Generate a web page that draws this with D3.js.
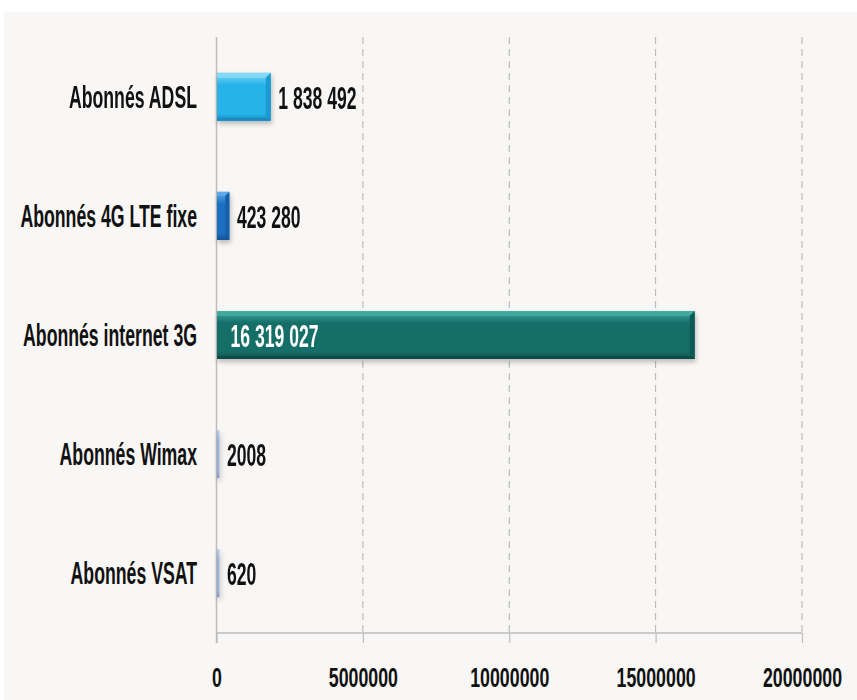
<!DOCTYPE html>
<html>
<head>
<meta charset="utf-8">
<script src="https://cdn.jsdelivr.net/npm/d3@7/dist/d3.min.js"></script>
<style>
  html, body { margin: 0; padding: 0; background: #ffffff; }
  svg { display: block; }
  text { font-family: "Liberation Sans", Arial, sans-serif; font-weight: bold; }
</style>
</head>
<body>
<svg id="chart" width="857" height="700"></svg>
<script>
// Internet subscribers by access technology
const categories = ["Abonnés ADSL", "Abonnés 4G LTE fixe", "Abonnés internet 3G", "Abonnés Wimax", "Abonnés VSAT"];
const values = [1838492, 423280, 16319027, 2008, 620];
const valueLabels = ["1 838 492", "423 280", "16 319 027", "2008", "620"];
const tickValues = [0, 5000000, 10000000, 15000000, 20000000];
const tickLabels = ["0", "5000000", "10000000", "15000000", "20000000"];

// bevelled bar palette: base, top light, bottom dark, right edge
const palette = [
  { base: "#28b3e9", light: "#86d9f6", dark: "#178cc2", edge: "#1b9ad2" },
  { base: "#1d70c1", light: "#5ea9e8", dark: "#13559a", edge: "#175fa9" },
  { base: "#156e68", light: "#43aaa1", dark: "#0e4d48", edge: "#0f5a54" },
  { base: "#9eaed6", light: "#bcc8e6", dark: "#8898c4", edge: "#8f9fca" },
  { base: "#9eaed6", light: "#bcc8e6", dark: "#8898c4", edge: "#8f9fca" }
];

const svg = d3.select("#chart");

// panel background
svg.append("rect").attr("x", 4).attr("y", 12).attr("width", 853).attr("height", 688).attr("fill", "#f8f7f5");

const x = d3.scaleLinear().domain([0, 20000000]).range([216.5, 802]);
const y = d3.scaleBand().domain(categories).range([37, 633]).paddingInner(0.597).paddingOuter(0.3);

const defs = svg.append("defs");
const shadow = defs.append("filter").attr("id", "shadow").attr("x", "-10%").attr("y", "-20%").attr("width", "130%").attr("height", "160%");
shadow.append("feDropShadow").attr("dx", 1).attr("dy", 3).attr("stdDeviation", 2.5)
  .attr("flood-color", "#000").attr("flood-opacity", 0.25);

palette.forEach((p, i) => {
  const g = defs.append("linearGradient").attr("id", "grad" + i).attr("x1", 0).attr("y1", 0).attr("x2", 0).attr("y2", 1);
  g.append("stop").attr("offset", "0%").attr("stop-color", p.light);
  g.append("stop").attr("offset", "25%").attr("stop-color", p.base);
  g.append("stop").attr("offset", "85%").attr("stop-color", p.base);
  g.append("stop").attr("offset", "100%").attr("stop-color", p.dark);
});

// gridlines
svg.append("g")
  .selectAll("line")
  .data(tickValues.slice(1))
  .join("line")
  .attr("x1", d => x(d)).attr("x2", d => x(d))
  .attr("y1", 37).attr("y2", 633)
  .attr("stroke", "#b0b0b0").attr("stroke-width", 1)
  .attr("stroke-dasharray", "7,5");

// x axis
const xAxis = svg.append("g").attr("transform", "translate(0,633)")
  .call(d3.axisBottom(x).tickValues(tickValues).tickSize(10).tickFormat((d, i) => tickLabels[i]));
xAxis.select(".domain").attr("stroke", "#bdbdbd").attr("stroke-width", 1.5).attr("d", `M${x(0)},0H${x(20000000)}`);
xAxis.selectAll(".tick line").attr("stroke", "#bdbdbd").attr("stroke-width", 1.2);
xAxis.selectAll(".tick text")
  .attr("y", 0).attr("dy", 0)
  .attr("fill", "#111").attr("font-size", 28)
  .attr("font-family", "'Liberation Sans', Arial, sans-serif").attr("font-weight", "bold")
  .attr("transform", "translate(0,54) scale(0.635,1)");

// vertical axis line
svg.append("line")
  .attr("x1", x(0)).attr("x2", x(0)).attr("y1", 37).attr("y2", 643)
  .attr("stroke", "#bdbdbd").attr("stroke-width", 1.5);

// bars
const bars = svg.append("g").attr("filter", "url(#shadow)")
  .selectAll("g")
  .data(categories)
  .join("g");

bars.each(function (c, i) {
  const g = d3.select(this);
  const x0 = x(0) + 0.5;
  const w = Math.max(x(values[i]) - x(0), 2.5);
  const y0 = y(c);
  const h = y.bandwidth();
  const p = palette[i];
  g.append("rect").attr("x", x0).attr("y", y0).attr("width", w).attr("height", h).attr("fill", `url(#grad${i})`);
  if (w > 8) {
    const b = Math.min(5, w / 3);
    g.append("polygon").attr("fill", p.light).attr("opacity", 0.9)
      .attr("points", [[x0, y0], [x0 + w, y0], [x0 + w - b, y0 + b], [x0, y0 + b]].map(q => q.join(",")).join(" "));
    g.append("polygon").attr("fill", p.dark)
      .attr("points", [[x0, y0 + h - b + 2], [x0 + w - b + 2, y0 + h - b + 2], [x0 + w, y0 + h], [x0, y0 + h]].map(q => q.join(",")).join(" "));
    g.append("polygon").attr("fill", p.edge)
      .attr("points", [[x0 + w, y0], [x0 + w, y0 + h], [x0 + w - b, y0 + h - b], [x0 + w - b, y0 + b]].map(q => q.join(",")).join(" "));
  }
});

// value labels
svg.append("g")
  .selectAll("text")
  .data(categories)
  .join("text")
  .attr("text-anchor", "start")
  .attr("fill", (c, i) => values[i] > 10000000 ? "#ffffff" : "#111111")
  .attr("font-size", 32)
  .attr("dy", "0.35em")
  .attr("transform", (c, i) => {
    const inside = values[i] > 10000000;
    const px = inside ? x(0) + 14 : Math.max(x(values[i]), x(0) + 2.5) + 8;
    return `translate(${px},${y(c) + y.bandwidth() / 2 + 1}) scale(0.55,1)`;
  })
  .text((c, i) => valueLabels[i]);

// category labels
svg.append("g")
  .selectAll("text")
  .data(categories)
  .join("text")
  .attr("text-anchor", "end")
  .attr("fill", "#111111")
  .attr("font-size", 32)
  .attr("dy", "0.35em")
  .attr("transform", c => `translate(197,${y(c) + y.bandwidth() / 2}) scale(0.553,1)`)
  .text(c => c);
</script>
</body>
</html>
